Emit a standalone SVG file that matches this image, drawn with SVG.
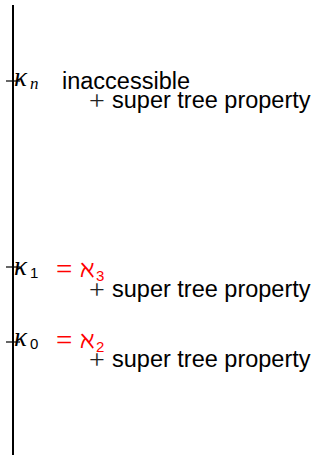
<svg xmlns="http://www.w3.org/2000/svg" width="320" height="457" viewBox="0 0 320 457">
<style>
.axis{stroke:#000;stroke-width:2;fill:none}
.tick{stroke:#000;stroke-width:1.2;fill:none}
.k{font-family:"Liberation Serif",serif;font-style:italic;font-size:27px;fill:#000}
.sub{font-family:"Liberation Sans",sans-serif;font-size:15px;fill:#000}
.subi{font-family:"Liberation Serif",serif;font-style:italic;font-size:17px;fill:#000}
.t{font-family:"Liberation Sans",sans-serif;font-size:23.5px;fill:#000}
.plus{font-family:"Liberation Serif",serif;font-size:28px;fill:#222}
.red{fill:#ff0000}
.aleph{font-family:"DejaVu Serif",serif;font-size:24px}
.rsub{font-family:"Liberation Sans",sans-serif;font-size:15px}
.eq{font-family:"Liberation Serif",serif;font-size:29px}
</style>
<g id="connectors">
<line class="axis" x1="13" y1="5" x2="13" y2="455"/>
<line class="tick" x1="6" y1="81" x2="20" y2="81"/>
<line class="tick" x1="6" y1="267" x2="20" y2="267"/>
<line class="tick" x1="6" y1="342" x2="20" y2="342"/>
</g>
<g id="kn">
<text class="k" x="14" y="86">κ</text><text class="subi" x="30" y="89">n</text>
<text class="t" x="62" y="89">inaccessible</text>
<text class="plus" x="89" y="110">+</text>
<text class="t" x="112" y="108">super tree property</text>
</g>
<g id="k1">
<text class="k" x="14" y="275">κ</text><text class="sub" x="30" y="278">1</text>
<text class="eq red" x="56" y="279">=</text>
<text class="aleph red" x="80" y="277">ℵ</text><text class="rsub red" x="96" y="281">3</text>
<text class="plus" x="89" y="299">+</text>
<text class="t" x="112" y="297">super tree property</text>
</g>
<g id="k0">
<text class="k" x="14" y="346">κ</text><text class="sub" x="30" y="349">0</text>
<text class="eq red" x="56" y="350">=</text>
<text class="aleph red" x="80" y="348">ℵ</text><text class="rsub red" x="96" y="352">2</text>
<text class="plus" x="89" y="369">+</text>
<text class="t" x="112" y="367">super tree property</text>
</g>
</svg>
